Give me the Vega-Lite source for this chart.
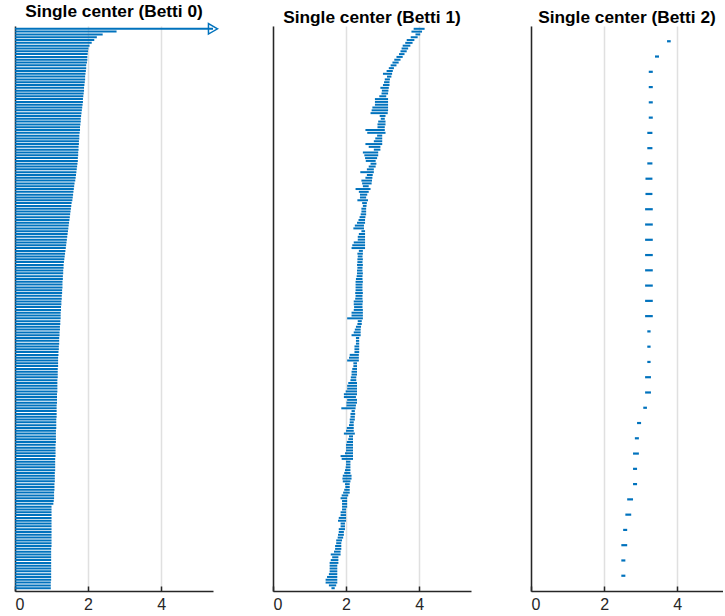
{
"$schema": "https://vega.github.io/schema/vega-lite/v6.json",
"padding": {"left": 14, "top": 3, "right": 0, "bottom": 0},
"spacing": 60,
"bounds": "flush",
"config": {
 "view": {"stroke": null},
 "font": "Liberation Sans",
 "title": {"fontSize": 17.3, "fontWeight": "bold", "font": "Liberation Sans", "color": "#000000", "offset": 0.1},
 "axisX": {"grid": true, "gridColor": "#e0e0e0", "gridWidth": 1.5, "domainColor": "#262626", "domainWidth": 1.5, "tickColor": "#262626", "tickWidth": 1.5, "tickSize": -5, "labelFontSize": 16, "labelColor": "#262626", "labelPadding": 10, "labelFont": "Liberation Sans"},
 "axisY": {"domain": true, "ticks": false, "labels": false, "grid": false, "domainColor": "#262626", "domainWidth": 1.5}
},
"datasets": {
"b0": [
{"i":1,"b":0,"d":0.98},{"i":2,"b":0,"d":0.98},{"i":3,"b":0,"d":0.98},{"i":4,"b":0,"d":0.99},{"i":5,"b":0,"d":0.99},{"i":6,"b":0,"d":0.99},{"i":7,"b":0,"d":0.99},{"i":8,"b":0,"d":0.99},{"i":9,"b":0,"d":0.99},{"i":10,"b":0,"d":0.99},
{"i":11,"b":0,"d":0.99},{"i":12,"b":0,"d":0.99},{"i":13,"b":0,"d":0.99},{"i":14,"b":0,"d":0.99},{"i":15,"b":0,"d":0.99},{"i":16,"b":0,"d":1.0},{"i":17,"b":0,"d":1.0},{"i":18,"b":0,"d":1.0},{"i":19,"b":0,"d":1.0},{"i":20,"b":0,"d":1.0},
{"i":21,"b":0,"d":1.0},{"i":22,"b":0,"d":1.0},{"i":23,"b":0,"d":1.0},{"i":24,"b":0,"d":1.0},{"i":25,"b":0,"d":1.0},{"i":26,"b":0,"d":1.0},{"i":27,"b":0,"d":1.0},{"i":28,"b":0,"d":1.0},{"i":29,"b":0,"d":1.0},{"i":30,"b":0,"d":1.0},
{"i":31,"b":0,"d":1.05},{"i":32,"b":0,"d":1.06},{"i":33,"b":0,"d":1.07},{"i":34,"b":0,"d":1.07},{"i":35,"b":0,"d":1.07},{"i":36,"b":0,"d":1.08},{"i":37,"b":0,"d":1.08},{"i":38,"b":0,"d":1.08},{"i":39,"b":0,"d":1.09},{"i":40,"b":0,"d":1.09},
{"i":41,"b":0,"d":1.09},{"i":42,"b":0,"d":1.09},{"i":43,"b":0,"d":1.10},{"i":44,"b":0,"d":1.10},{"i":45,"b":0,"d":1.10},{"i":46,"b":0,"d":1.10},{"i":47,"b":0,"d":1.10},{"i":48,"b":0,"d":1.11},{"i":49,"b":0,"d":1.11},{"i":50,"b":0,"d":1.11},
{"i":51,"b":0,"d":1.11},{"i":52,"b":0,"d":1.11},{"i":53,"b":0,"d":1.12},{"i":54,"b":0,"d":1.12},{"i":55,"b":0,"d":1.12},{"i":56,"b":0,"d":1.12},{"i":57,"b":0,"d":1.12},{"i":58,"b":0,"d":1.13},{"i":59,"b":0,"d":1.13},{"i":60,"b":0,"d":1.13},
{"i":61,"b":0,"d":1.13},{"i":62,"b":0,"d":1.14},{"i":63,"b":0,"d":1.14},{"i":64,"b":0,"d":1.14},{"i":65,"b":0,"d":1.14},{"i":66,"b":0,"d":1.14},{"i":67,"b":0,"d":1.15},{"i":68,"b":0,"d":1.15},{"i":69,"b":0,"d":1.15},{"i":70,"b":0,"d":1.15},
{"i":71,"b":0,"d":1.16},{"i":72,"b":0,"d":1.16},{"i":73,"b":0,"d":1.16},{"i":74,"b":0,"d":1.16},{"i":75,"b":0,"d":1.16},{"i":76,"b":0,"d":1.17},{"i":77,"b":0,"d":1.17},{"i":78,"b":0,"d":1.17},{"i":79,"b":0,"d":1.17},{"i":80,"b":0,"d":1.18},
{"i":81,"b":0,"d":1.18},{"i":82,"b":0,"d":1.18},{"i":83,"b":0,"d":1.18},{"i":84,"b":0,"d":1.19},{"i":85,"b":0,"d":1.19},{"i":86,"b":0,"d":1.20},{"i":87,"b":0,"d":1.20},{"i":88,"b":0,"d":1.21},{"i":89,"b":0,"d":1.21},{"i":90,"b":0,"d":1.21},
{"i":91,"b":0,"d":1.22},{"i":92,"b":0,"d":1.22},{"i":93,"b":0,"d":1.23},{"i":94,"b":0,"d":1.23},{"i":95,"b":0,"d":1.24},{"i":96,"b":0,"d":1.24},{"i":97,"b":0,"d":1.25},{"i":98,"b":0,"d":1.25},{"i":99,"b":0,"d":1.25},{"i":100,"b":0,"d":1.26},
{"i":101,"b":0,"d":1.26},{"i":102,"b":0,"d":1.27},{"i":103,"b":0,"d":1.27},{"i":104,"b":0,"d":1.28},{"i":105,"b":0,"d":1.28},{"i":106,"b":0,"d":1.29},{"i":107,"b":0,"d":1.29},{"i":108,"b":0,"d":1.30},{"i":109,"b":0,"d":1.30},{"i":110,"b":0,"d":1.30},
{"i":111,"b":0,"d":1.31},{"i":112,"b":0,"d":1.31},{"i":113,"b":0,"d":1.32},{"i":114,"b":0,"d":1.32},{"i":115,"b":0,"d":1.33},{"i":116,"b":0,"d":1.33},{"i":117,"b":0,"d":1.34},{"i":118,"b":0,"d":1.35},{"i":119,"b":0,"d":1.36},{"i":120,"b":0,"d":1.37},
{"i":121,"b":0,"d":1.38},{"i":122,"b":0,"d":1.39},{"i":123,"b":0,"d":1.40},{"i":124,"b":0,"d":1.41},{"i":125,"b":0,"d":1.42},{"i":126,"b":0,"d":1.43},{"i":127,"b":0,"d":1.44},{"i":128,"b":0,"d":1.45},{"i":129,"b":0,"d":1.46},{"i":130,"b":0,"d":1.47},
{"i":131,"b":0,"d":1.48},{"i":132,"b":0,"d":1.49},{"i":133,"b":0,"d":1.50},{"i":134,"b":0,"d":1.51},{"i":135,"b":0,"d":1.52},{"i":136,"b":0,"d":1.53},{"i":137,"b":0,"d":1.54},{"i":138,"b":0,"d":1.55},{"i":139,"b":0,"d":1.57},{"i":140,"b":0,"d":1.58},
{"i":141,"b":0,"d":1.59},{"i":142,"b":0,"d":1.60},{"i":143,"b":0,"d":1.61},{"i":144,"b":0,"d":1.62},{"i":145,"b":0,"d":1.63},{"i":146,"b":0,"d":1.65},{"i":147,"b":0,"d":1.66},{"i":148,"b":0,"d":1.67},{"i":149,"b":0,"d":1.68},{"i":150,"b":0,"d":1.69},
{"i":151,"b":0,"d":1.70},{"i":152,"b":0,"d":1.71},{"i":153,"b":0,"d":1.72},{"i":154,"b":0,"d":1.72},{"i":155,"b":0,"d":1.73},{"i":156,"b":0,"d":1.73},{"i":157,"b":0,"d":1.74},{"i":158,"b":0,"d":1.74},{"i":159,"b":0,"d":1.75},{"i":160,"b":0,"d":1.75},
{"i":161,"b":0,"d":1.76},{"i":162,"b":0,"d":1.76},{"i":163,"b":0,"d":1.77},{"i":164,"b":0,"d":1.78},{"i":165,"b":0,"d":1.78},{"i":166,"b":0,"d":1.79},{"i":167,"b":0,"d":1.80},{"i":168,"b":0,"d":1.80},{"i":169,"b":0,"d":1.81},{"i":170,"b":0,"d":1.82},
{"i":171,"b":0,"d":1.83},{"i":172,"b":0,"d":1.84},{"i":173,"b":0,"d":1.85},{"i":174,"b":0,"d":1.86},{"i":175,"b":0,"d":1.86},{"i":176,"b":0,"d":1.87},{"i":177,"b":0,"d":1.88},{"i":178,"b":0,"d":1.89},{"i":179,"b":0,"d":1.89},{"i":180,"b":0,"d":1.90},
{"i":181,"b":0,"d":1.91},{"i":182,"b":0,"d":1.92},{"i":183,"b":0,"d":1.92},{"i":184,"b":0,"d":1.93},{"i":185,"b":0,"d":1.94},{"i":186,"b":0,"d":1.95},{"i":187,"b":0,"d":1.95},{"i":188,"b":0,"d":1.97},{"i":189,"b":0,"d":1.98},{"i":190,"b":0,"d":1.98},
{"i":191,"b":0,"d":1.99},{"i":192,"b":0,"d":2.00},{"i":193,"b":0,"d":2.01},{"i":194,"b":0,"d":2.04},{"i":195,"b":0,"d":2.10},{"i":196,"b":0,"d":2.17},{"i":197,"b":0,"d":2.24},{"i":198,"b":0,"d":2.40},{"i":199,"b":0,"d":2.78},{"i":200,"b":0,"d":5.42,"inf":true}
],
"b1": [
{"i":1,"b":1.60,"d":1.69},{"i":2,"b":1.53,"d":1.73},{"i":3,"b":1.44,"d":1.76},{"i":4,"b":1.44,"d":1.76},{"i":5,"b":1.48,"d":1.76},{"i":6,"b":1.53,"d":1.76},{"i":7,"b":1.55,"d":1.76},{"i":8,"b":1.55,"d":1.76},{"i":9,"b":1.55,"d":1.76},{"i":10,"b":1.55,"d":1.79},
{"i":11,"b":1.58,"d":1.79},{"i":12,"b":1.62,"d":1.79},{"i":13,"b":1.58,"d":1.85},{"i":14,"b":1.67,"d":1.85},{"i":15,"b":1.70,"d":1.87},{"i":16,"b":1.70,"d":1.87},{"i":17,"b":1.73,"d":1.87},{"i":18,"b":1.73,"d":1.89},{"i":19,"b":1.77,"d":1.92},{"i":20,"b":1.78,"d":1.94},
{"i":21,"b":1.80,"d":1.94},{"i":22,"b":1.80,"d":1.97},{"i":23,"b":1.85,"d":1.97},{"i":24,"b":1.85,"d":1.97},{"i":25,"b":1.78,"d":2.00},{"i":26,"b":1.80,"d":2.00},{"i":27,"b":1.85,"d":2.00},{"i":28,"b":1.85,"d":2.00},{"i":29,"b":1.89,"d":2.00},{"i":30,"b":1.89,"d":2.03},
{"i":31,"b":1.89,"d":2.03},{"i":32,"b":1.89,"d":2.03},{"i":33,"b":1.85,"d":2.03},{"i":34,"b":1.88,"d":2.06},{"i":35,"b":1.92,"d":2.10},{"i":36,"b":1.95,"d":2.10},{"i":37,"b":1.98,"d":2.10},{"i":38,"b":1.97,"d":2.10},{"i":39,"b":1.91,"d":2.12},{"i":40,"b":1.90,"d":2.15},
{"i":41,"b":1.91,"d":2.15},{"i":42,"b":1.95,"d":2.12},{"i":43,"b":1.97,"d":2.12},{"i":44,"b":1.99,"d":2.12},{"i":45,"b":2.00,"d":2.12},{"i":46,"b":2.00,"d":2.12},{"i":47,"b":1.88,"d":2.19},{"i":48,"b":1.85,"d":2.19},{"i":49,"b":1.97,"d":2.19},{"i":50,"b":2.00,"d":2.19},
{"i":51,"b":2.00,"d":2.19},{"i":52,"b":2.00,"d":2.19},{"i":53,"b":2.02,"d":2.19},{"i":54,"b":2.06,"d":2.19},{"i":55,"b":2.08,"d":2.19},{"i":56,"b":1.94,"d":2.24},{"i":57,"b":2.00,"d":2.21},{"i":58,"b":2.02,"d":2.21},{"i":59,"b":2.08,"d":2.21},{"i":60,"b":2.10,"d":2.21},
{"i":61,"b":2.10,"d":2.24},{"i":62,"b":2.12,"d":2.24},{"i":63,"b":2.12,"d":2.25},{"i":64,"b":2.15,"d":2.24},{"i":65,"b":1.87,"d":2.26},{"i":66,"b":2.01,"d":2.27},{"i":67,"b":2.01,"d":2.30},{"i":68,"b":2.03,"d":2.30},{"i":69,"b":1.94,"d":2.27},{"i":70,"b":1.94,"d":2.30},
{"i":71,"b":1.99,"d":2.30},{"i":72,"b":2.03,"d":2.30},{"i":73,"b":2.03,"d":2.30},{"i":74,"b":2.06,"d":2.30},{"i":75,"b":2.12,"d":2.28},{"i":76,"b":2.13,"d":2.28},{"i":77,"b":2.15,"d":2.30},{"i":78,"b":2.15,"d":2.30},{"i":79,"b":2.17,"d":2.30},{"i":80,"b":2.20,"d":2.30},
{"i":81,"b":2.20,"d":2.30},{"i":82,"b":2.03,"d":2.35},{"i":83,"b":2.08,"d":2.35},{"i":84,"b":2.10,"d":2.35},{"i":85,"b":2.23,"d":2.36},{"i":86,"b":2.23,"d":2.36},{"i":87,"b":2.23,"d":2.36},{"i":88,"b":2.27,"d":2.36},{"i":89,"b":2.27,"d":2.36},{"i":90,"b":2.27,"d":2.36},
{"i":91,"b":2.15,"d":2.40},{"i":92,"b":2.21,"d":2.40},{"i":93,"b":2.24,"d":2.40},{"i":94,"b":2.27,"d":2.41},{"i":95,"b":2.31,"d":2.43},{"i":96,"b":2.32,"d":2.43},{"i":97,"b":2.03,"d":2.46},{"i":98,"b":2.15,"d":2.46},{"i":99,"b":2.15,"d":2.46},{"i":100,"b":2.21,"d":2.46},
{"i":101,"b":2.22,"d":2.45},{"i":102,"b":2.21,"d":2.45},{"i":103,"b":2.21,"d":2.46},{"i":104,"b":2.25,"d":2.45},{"i":105,"b":2.26,"d":2.45},{"i":106,"b":2.25,"d":2.46},{"i":107,"b":2.26,"d":2.45},{"i":108,"b":2.26,"d":2.45},{"i":109,"b":2.26,"d":2.45},{"i":110,"b":2.26,"d":2.46},
{"i":111,"b":2.27,"d":2.45},{"i":112,"b":2.29,"d":2.45},{"i":113,"b":2.30,"d":2.46},{"i":114,"b":2.30,"d":2.45},{"i":115,"b":2.31,"d":2.45},{"i":116,"b":2.30,"d":2.46},{"i":117,"b":2.31,"d":2.45},{"i":118,"b":2.31,"d":2.46},{"i":119,"b":2.32,"d":2.45},{"i":120,"b":2.31,"d":2.46},
{"i":121,"b":2.35,"d":2.46},{"i":122,"b":2.15,"d":2.52},{"i":123,"b":2.17,"d":2.52},{"i":124,"b":2.21,"d":2.52},{"i":125,"b":2.32,"d":2.52},{"i":126,"b":2.32,"d":2.52},{"i":127,"b":2.35,"d":2.52},{"i":128,"b":2.42,"d":2.52},{"i":129,"b":2.20,"d":2.49},{"i":130,"b":2.24,"d":2.49},
{"i":131,"b":2.30,"d":2.52},{"i":132,"b":2.34,"d":2.52},{"i":133,"b":2.37,"d":2.53},{"i":134,"b":2.40,"d":2.55},{"i":135,"b":2.42,"d":2.55},{"i":136,"b":2.42,"d":2.55},{"i":137,"b":2.46,"d":2.56},{"i":138,"b":2.44,"d":2.57},{"i":139,"b":2.31,"d":2.60},{"i":140,"b":2.38,"d":2.55},
{"i":141,"b":2.38,"d":2.58},{"i":142,"b":2.35,"d":2.62},{"i":143,"b":2.26,"d":2.67},{"i":144,"b":2.46,"d":2.62},{"i":145,"b":2.44,"d":2.70},{"i":146,"b":2.42,"d":2.71},{"i":147,"b":2.53,"d":2.72},{"i":148,"b":2.57,"d":2.73},{"i":149,"b":2.39,"d":2.76},{"i":150,"b":2.57,"d":2.76},
{"i":151,"b":2.62,"d":2.81},{"i":152,"b":2.67,"d":2.83},{"i":153,"b":2.54,"d":2.81},{"i":154,"b":2.52,"d":2.85},{"i":155,"b":2.50,"d":2.88},{"i":156,"b":2.46,"d":2.88},{"i":157,"b":2.76,"d":2.94},{"i":158,"b":2.62,"d":2.94},{"i":159,"b":2.53,"d":2.99},{"i":160,"b":2.76,"d":2.99},
{"i":161,"b":2.80,"d":2.99},{"i":162,"b":2.85,"d":2.99},{"i":163,"b":2.58,"d":3.08},{"i":164,"b":2.53,"d":3.06},{"i":165,"b":2.86,"d":3.06},{"i":166,"b":2.86,"d":3.08},{"i":167,"b":2.88,"d":3.08},{"i":168,"b":2.95,"d":3.06},{"i":169,"b":2.92,"d":3.08},{"i":170,"b":2.67,"d":3.14},
{"i":171,"b":2.70,"d":3.15},{"i":172,"b":2.72,"d":3.15},{"i":173,"b":2.79,"d":3.15},{"i":174,"b":2.79,"d":3.15},{"i":175,"b":2.79,"d":3.15},{"i":176,"b":2.91,"d":3.10},{"i":177,"b":2.97,"d":3.15},{"i":178,"b":2.98,"d":3.16},{"i":179,"b":2.94,"d":3.17},{"i":180,"b":3.01,"d":3.19},
{"i":181,"b":3.04,"d":3.19},{"i":182,"b":3.06,"d":3.20},{"i":183,"b":3.12,"d":3.24},{"i":184,"b":3.01,"d":3.26},{"i":185,"b":3.11,"d":3.28},{"i":186,"b":3.17,"d":3.31},{"i":187,"b":3.22,"d":3.38},{"i":188,"b":3.27,"d":3.44},{"i":189,"b":3.32,"d":3.49},{"i":190,"b":3.38,"d":3.55},
{"i":191,"b":3.45,"d":3.60},{"i":192,"b":3.49,"d":3.66},{"i":193,"b":3.52,"d":3.70},{"i":194,"b":3.55,"d":3.76},{"i":195,"b":3.62,"d":3.82},{"i":196,"b":3.66,"d":3.87},{"i":197,"b":3.77,"d":3.96},{"i":198,"b":3.90,"d":4.03},{"i":199,"b":3.79,"d":4.08},{"i":200,"b":3.85,"d":4.15}
],
"b2": [
{"i":1,"b":2.47,"d":2.58},{"i":2,"b":2.47,"d":2.58},{"i":3,"b":2.47,"d":2.63},{"i":4,"b":2.52,"d":2.63},{"i":5,"b":2.58,"d":2.74},{"i":6,"b":2.63,"d":2.79},{"i":7,"b":2.79,"d":2.90},{"i":8,"b":2.79,"d":2.90},{"i":9,"b":2.79,"d":2.95},{"i":10,"b":2.84,"d":2.95},
{"i":11,"b":2.90,"d":3.01},{"i":12,"b":3.07,"d":3.17},{"i":13,"b":3.12,"d":3.28},{"i":14,"b":3.12,"d":3.28},{"i":15,"b":3.18,"d":3.27},{"i":16,"b":3.18,"d":3.27},{"i":17,"b":3.18,"d":3.27},{"i":18,"b":3.12,"d":3.33},{"i":19,"b":3.12,"d":3.33},{"i":20,"b":3.12,"d":3.33},
{"i":21,"b":3.12,"d":3.33},{"i":22,"b":3.12,"d":3.33},{"i":23,"b":3.12,"d":3.33},{"i":24,"b":3.12,"d":3.33},{"i":25,"b":3.12,"d":3.33},{"i":26,"b":3.13,"d":3.32},{"i":27,"b":3.13,"d":3.32},{"i":28,"b":3.18,"d":3.32},{"i":29,"b":3.18,"d":3.32},{"i":30,"b":3.18,"d":3.32},
{"i":31,"b":3.22,"d":3.33},{"i":32,"b":3.22,"d":3.33},{"i":33,"b":3.22,"d":3.33},{"i":34,"b":3.22,"d":3.33},{"i":35,"b":3.39,"d":3.50},{"i":36,"b":3.72,"d":3.82}
]
},
"hconcat": [
 {
  "width": 198, "height": 565,
  "title": "Single center (Betti 0)",
  "data": {"name": "b0"},
  "layer": [
   {"mark": {"type": "rule", "color": "#0072BD", "strokeWidth": 2},
    "encoding": {
     "x": {"field": "b", "type": "quantitative", "scale": {"domain": [0, 5.42], "nice": false}, "axis": {"values": [0, 2, 4], "title": null}},
     "x2": {"field": "d"},
     "y": {"field": "i", "type": "quantitative", "scale": {"domain": [0, 201], "nice": false}, "axis": {"title": null}}
    }},
   {"transform": [{"filter": "datum.inf === true"}],
    "mark": {"type": "point", "shape": "triangle-right", "filled": false, "color": "#0072BD", "size": 110, "strokeWidth": 1.5, "opacity": 1},
    "encoding": {
     "x": {"field": "d", "type": "quantitative"},
     "y": {"field": "i", "type": "quantitative"}
    }}
  ]
 },
 {
  "width": 198, "height": 565,
  "title": "Single center (Betti 1)",
  "data": {"name": "b1"},
  "mark": {"type": "rule", "color": "#0072BD", "strokeWidth": 2},
  "encoding": {
   "x": {"field": "b", "type": "quantitative", "scale": {"domain": [0, 5.42], "nice": false}, "axis": {"values": [0, 2, 4], "title": null}},
   "x2": {"field": "d"},
   "y": {"field": "i", "type": "quantitative", "scale": {"domain": [0, 201], "nice": false}, "axis": {"title": null}}
  }
 },
 {
  "width": 192, "height": 565,
  "title": "Single center (Betti 2)",
  "data": {"name": "b2"},
  "mark": {"type": "rule", "color": "#0072BD", "strokeWidth": 2.2},
  "encoding": {
   "x": {"field": "b", "type": "quantitative", "scale": {"domain": [0, 5.25], "nice": false}, "axis": {"values": [0, 2, 4], "title": null}},
   "x2": {"field": "d"},
   "y": {"field": "i", "type": "quantitative", "scale": {"domain": [0, 37], "nice": false}, "axis": {"title": null}}
  }
 }
]
}
